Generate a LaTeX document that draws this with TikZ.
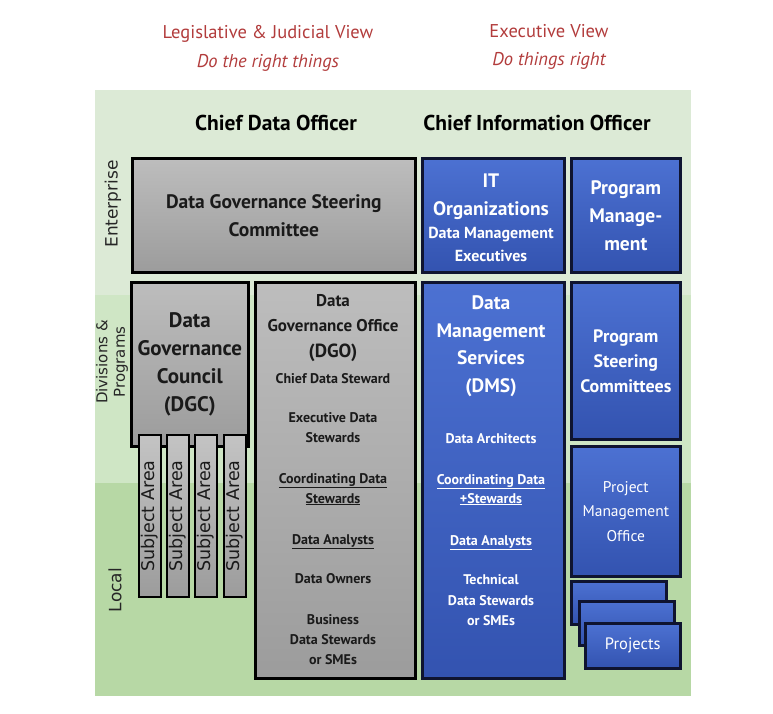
\documentclass[tikz,border=0pt]{standalone}
\usepackage{fontspec}
\setmainfont{PT Sans}
\newfontfamily\sidefont{DejaVu Sans}
\definecolor{bandA}{HTML}{DCEAD6}
\definecolor{bandB}{HTML}{CFE6C5}
\definecolor{bandC}{HTML}{B7D8A5}
\definecolor{greyT}{HTML}{BDBDBD}
\definecolor{greyB}{HTML}{9C9C9C}
\definecolor{blueT}{HTML}{4C71D2}
\definecolor{blueB}{HTML}{3353B0}
\definecolor{navy}{HTML}{0F1430}
\definecolor{titlered}{HTML}{B23C3C}
\definecolor{darktext}{HTML}{1A1A1A}
\begin{document}
\begin{tikzpicture}[x=1pt,y=-1pt,
  greybox/.style={draw=black, line width=2.6pt, top color=greyT, bottom color=greyB, inner sep=0pt, anchor=north west, text=darktext, align=center},
  bluebox/.style={draw=navy, line width=2.6pt, top color=blueT, bottom color=blueB, inner sep=0pt, anchor=north west, text=white, align=center},
  gl/.style={anchor=base, inner sep=0pt, text=darktext},
  wl/.style={anchor=base, inner sep=0pt, text=white},
  side/.style={rotate=90, inner sep=0pt, text=black!85, align=center},
  subj/.style={draw=black, line width=2.2pt, top color=greyT!90, bottom color=greyB, inner sep=0pt, anchor=north west, minimum width=22pt, minimum height=162pt},
  subjtext/.style={rotate=90, inner sep=0pt, text=darktext, font=\sidefont\fontsize{17.5}{20}\selectfont},
]
\useasboundingbox (0,0) rectangle (773,714);
% background bands
\fill[bandA] (95,90) rectangle (691,295);
\fill[bandB] (95,295) rectangle (691,483);
\fill[bandC] (95,483) rectangle (691,696);

% titles
\node[text=titlered, font=\fontsize{18.5}{22}\selectfont, anchor=base] (t1) at (268,39) {Legislative \& Judicial View};
\node[text=titlered, font=\itshape\fontsize{18.5}{22}\selectfont, anchor=base] (t2) at (268,68) {Do the right things};
\node[text=titlered, font=\fontsize{18.5}{22}\selectfont, anchor=base] (t3) at (549,38) {Executive View};
\node[text=titlered, font=\itshape\fontsize{18.5}{22}\selectfont, anchor=base] (t4) at (549,66) {Do things right};

\node[font=\bfseries\fontsize{21.5}{25}\selectfont, anchor=base] (cdo) at (276,131) {Chief Data Officer};
\node[font=\bfseries\fontsize{21.5}{25}\selectfont, anchor=base] (cio) at (537,131) {Chief Information Officer};

% side labels
\node[side, font=\sidefont\fontsize{17}{19}\selectfont] (ent) at (113,204) {Enterprise};
\node[side, font=\sidefont\fontsize{15}{17.5}\selectfont] (div) at (112,362) {Divisions \&\\Programs};
\node[side, font=\sidefont\fontsize{17}{19}\selectfont] (loc) at (115,590) {Local};

% grey column
\node[greybox, minimum width=283pt, minimum height=114pt, font=\bfseries\fontsize{19.5}{28}\selectfont] (dgsc) at (131,157) {Data Governance Steering\\Committee};
\node[greybox, minimum width=117pt, minimum height=164pt, font=\bfseries\fontsize{21}{28}\selectfont] (dgc) at (130,281) {Data\\Governance\\Council\\(DGC)};
\foreach \i/\x in {1/138,2/166,3/194,4/223}{
  \node[subj] (sa\i) at (\x,434) {};
  \node[subjtext] (sat\i) at (sa\i.center) {Subject Area};
}
\node[greybox, minimum width=160pt, minimum height=396pt] (dgo) at (254,281) {};
\node[gl, font=\bfseries\fontsize{17}{19}\selectfont] (dgo1) at (333,306) {Data};
\node[gl, font=\bfseries\fontsize{17}{19}\selectfont] (dgo2) at (333,331) {Governance Office};
\node[gl, font=\bfseries\fontsize{19}{21}\selectfont] (dgo3) at (333,357) {(DGO)};
\foreach \n/\y/\t in {4/383/{Chief Data Steward},5/422/{Executive Data},6/442/{Stewards},7/483/{\underline{Coordinating Data}},8/503/{\underline{Stewards}},9/544/{\underline{Data Analysts}},10/583/{Data Owners},11/624/{Business},12/644/{Data Stewards},13/664/{or SMEs}}{
  \node[gl, font=\bfseries\fontsize{14}{16}\selectfont] (dgo\n) at (333,\y) {\t};
}

% blue column
\node[bluebox, minimum width=142pt, minimum height=114pt] (ito) at (421,157) {};
\node[wl, font=\bfseries\fontsize{19.5}{22}\selectfont] (ito1) at (491,187) {IT};
\node[wl, font=\bfseries\fontsize{19.5}{22}\selectfont] (ito2) at (491,215) {Organizations};
\node[wl, font=\bfseries\fontsize{16}{18}\selectfont] (ito3) at (491,238) {Data Management};
\node[wl, font=\bfseries\fontsize{16}{18}\selectfont] (ito4) at (491,261) {Executives};

\node[bluebox, minimum width=109pt, minimum height=114pt, font=\bfseries\fontsize{19.5}{28}\selectfont] (pm) at (570,157) {Program\\Manage-\\ment};

\node[bluebox, minimum width=142pt, minimum height=396pt] (dms) at (421,281) {};
\foreach \n/\y/\t in {1/309/{Data},2/337/{Management},3/364/{Services},4/392/{(DMS)}}{
  \node[wl, font=\bfseries\fontsize{19.5}{22}\selectfont] (dms\n) at (491,\y) {\t};
}
\foreach \n/\y/\t in {5/443/{Data Architects},6/484/{\underline{Coordinating Data}},7/503/{\underline{+Stewards}},8/545/{\underline{Data Analysts}},9/584/{Technical},10/605/{Data Stewards},11/625/{or SMEs}}{
  \node[wl, font=\bfseries\fontsize{14}{16}\selectfont] (dms\n) at (491,\y) {\t};
}

\node[bluebox, minimum width=109pt, minimum height=157pt, font=\bfseries\fontsize{18}{25}\selectfont] (psc) at (570,281) {Program\\Steering\\Committees};
\node[bluebox, minimum width=109pt, minimum height=130pt, font=\fontsize{15.5}{24.5}\selectfont] (pmo) at (570,445) {Project\\Management\\Office};

\node[bluebox, minimum width=95pt, minimum height=43pt] (proj1) at (570,580) {};
\node[bluebox, minimum width=95pt, minimum height=44pt] (proj2) at (578,600) {};
\node[bluebox, minimum width=95pt, minimum height=45pt, font=\fontsize{16.5}{19}\selectfont] (proj3) at (584,622) {Projects};
\end{tikzpicture}
\end{document}
